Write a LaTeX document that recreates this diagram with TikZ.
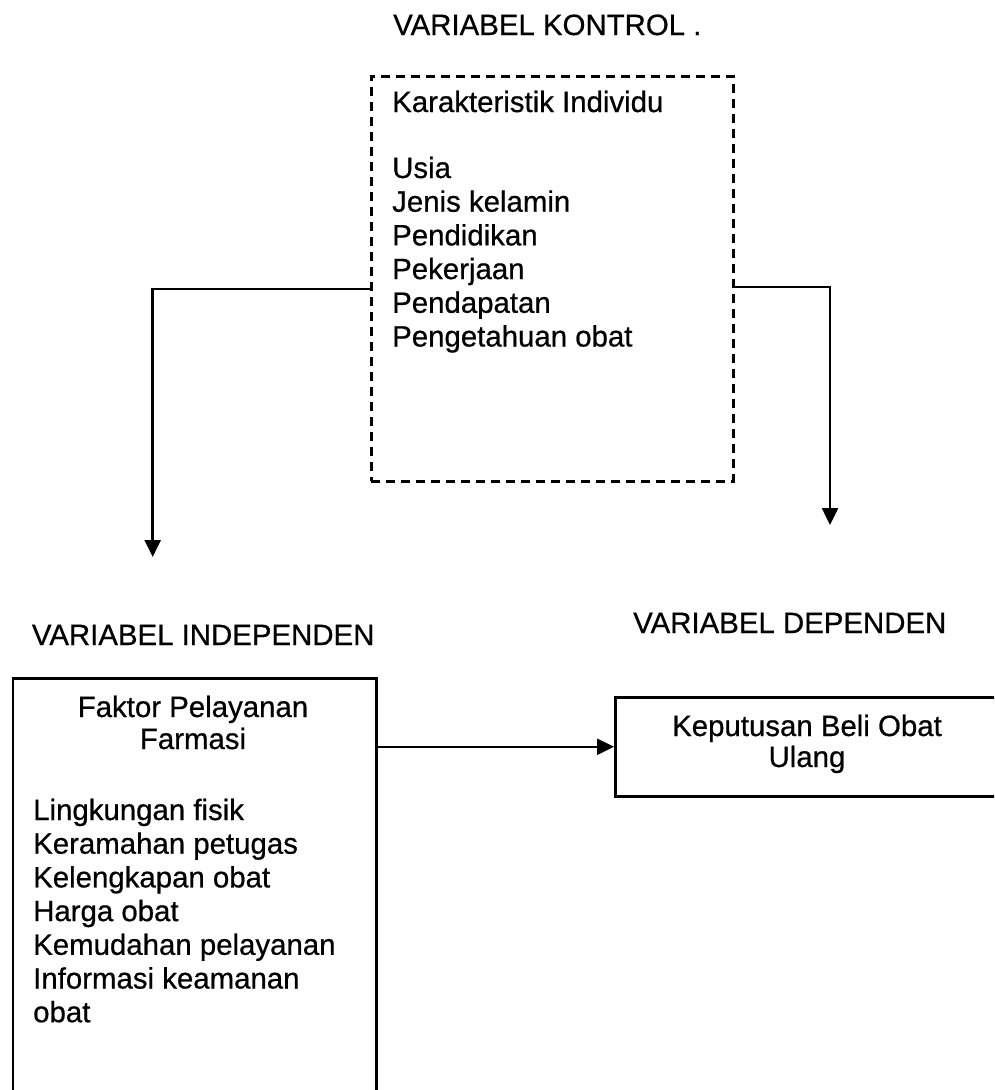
\documentclass[tikz,border=0pt]{standalone}
\usepackage{fontspec}
\setmainfont{Liberation Sans}
\newfontfamily\scanfont{Liberation Sans}[FakeBold=0.6]
\usetikzlibrary{arrows.meta}
\begin{document}
\begin{tikzpicture}[x=1pt,y=-1pt,
  txt/.style={font=\scanfont\fontsize{29.4}{34}\selectfont, inner sep=0pt},
  boxsolid/.style={draw, line width=2.5pt, inner sep=0pt, anchor=north west},
  boxdash/.style={draw, line width=2.5pt, dash pattern=on 9pt off 6pt, inner sep=0pt, anchor=north west},
  conn/.style={line width=2.5pt, -{Triangle[length=17pt,width=16pt]}}]
\clip (0,0) rectangle (994,1090);
\fill[white] (0,0) rectangle (994,1090);
% boxes
\node[boxdash, minimum width=362pt, minimum height=405pt] (kontrol) at (370,75) {};
\node[boxsolid, minimum width=363.5pt, minimum height=415pt] (indep) at (11.7,677) {};
\node[boxsolid, minimum width=390pt, minimum height=99pt] (dep) at (614,696) {};
% headings
\node[txt, anchor=base west] (tkontrol) at (393,35) {VARIABEL KONTROL .};
\node[txt, anchor=base west] (tindep) at (31.7,645) {VARIABEL INDEPENDEN};
\node[txt, anchor=base west] (tdep) at (633,633) {VARIABEL DEPENDEN};
% control box text
\node[txt, anchor=base west] (kar) at (392,112) {Karakteristik Individu};
\foreach \t [count=\i] in {Usia, Jenis kelamin, Pendidikan, Pekerjaan, Pendapatan, Pengetahuan obat}
  \node[txt, anchor=base west] (k\i) at (392,{144.3+33.7*\i}) {\t};
% independent box text
\node[txt, anchor=base] (fak1) at (193,717) {Faktor Pelayanan};
\node[txt, anchor=base] (fak2) at (193,749) {Farmasi};
\foreach \t [count=\i] in {Lingkungan fisik, Keramahan petugas, Kelengkapan obat, Harga obat, Kemudahan pelayanan, Informasi keamanan, obat}
  \node[txt, anchor=base west] (f\i) at (33,{786.3+33.7*\i}) {\t};
% dependent box text
\node[txt, anchor=base] (dep1) at (807,736) {Keputusan Beli Obat};
\node[txt, anchor=base] (dep2) at (807,767) {Ulang};
% connectors
\coordinate (tipL) at (152.7,557);
\coordinate (tipR) at (830,525);
\draw[conn] ([yshift=-214pt]kontrol.north west) -| (tipL);
\draw[conn] ([yshift=-212pt]kontrol.north east) -| (tipR);
\draw[conn] (indep.east |- dep.west) -- (dep.west);
\end{tikzpicture}
\end{document}
